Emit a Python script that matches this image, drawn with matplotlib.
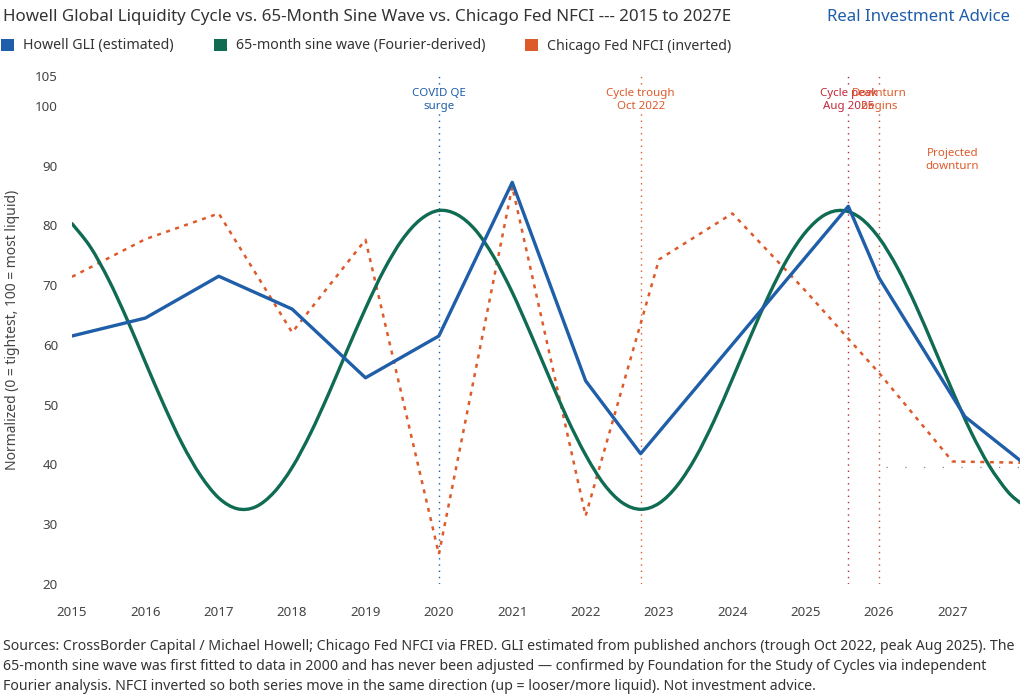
import matplotlib
matplotlib.use("Agg")
import matplotlib.pyplot as plt
from matplotlib.patches import Patch, PathPatch
from matplotlib.path import Path

plt.rcParams["font.family"] = ["Noto Sans", "DejaVu Sans"]

BLUE = "#1f5ea8"
GREEN = "#0f6b52"
ORANGE = "#dd5a2b"
CRIMSON = "#c3283a"
BROWN = "#b9553a"
TEXT = "#333333"

# x values are decimal years (Oct 2022 = 2022.75, Aug 2025 = 2025.58)
year_ticks = list(range(2015, 2028))
y_ticks = [20, 30, 40, 50, 60, 70, 80, 90, 100, 105]

gli_dates = [2015.0, 2016.0, 2017.0, 2018.0, 2019.0, 2020.0, 2021.0, 2022.0,
             2022.75, 2025.58, 2026.0, 2027.17, 2027.92]
gli_values = [61.5, 64.5, 71.5, 66.0, 54.5, 61.5, 87.2, 54.0,
              41.8, 83.2, 71.2, 48.0, 40.7]

nfci_dates = [2015.0, 2016.0, 2017.0, 2018.0, 2019.0, 2020.0, 2021.0, 2022.0,
              2023.0, 2024.0, 2025.0, 2026.0, 2027.0, 2027.92]
nfci_values = [71.4, 77.7, 82.0, 62.1, 77.6, 25.0, 86.5, 31.4,
               74.3, 82.0, 69.0, 55.3, 40.5, 40.3]

# sine wave
sine_dates = [2015 + q / 4 for q in range(52)] + [2027.92]
sine_values = [80.3, 76.4, 70.9, 64.3, 57.1, 50.0, 43.5, 38.2,
               34.4, 32.6, 32.9, 35.3, 39.5, 45.2, 51.9, 59.1,
               66.1, 72.5, 77.6, 81.0, 82.5, 81.8, 79.2, 74.7,
               68.8, 61.9, 54.7, 47.7, 41.6, 36.7, 33.6, 32.5,
               33.5, 36.5, 41.2, 47.3, 54.3, 61.5, 68.4, 74.4,
               78.9, 81.7, 82.5, 81.2, 77.9, 72.9, 66.6, 59.5,
               52.3, 45.5, 39.8, 35.5, 33.6]

events = [
    (2020.0, "COVID QE\nsurge", BLUE, BLUE),
    (2022.75, "Cycle trough\nOct 2022", ORANGE, ORANGE),
    (2025.58, "Cycle peak\nAug 2025", CRIMSON, CRIMSON),
    (2026.0, "Downturn\nbegins", BROWN, ORANGE),
]


def smooth_path(xs, ys):
    """Cubic bezier path through the points (like a tensioned chart line)."""
    pts = list(zip(xs, ys))
    verts = [pts[0]]
    codes = [Path.MOVETO]
    n = len(pts)
    for i in range(n - 1):
        p0 = pts[i - 1] if i > 0 else pts[i]
        p1 = pts[i]
        p2 = pts[i + 1]
        p3 = pts[i + 2] if i + 2 < n else pts[i + 1]
        c1 = (p1[0] + (p2[0] - p0[0]) / 6, p1[1] + (p2[1] - p0[1]) / 6)
        c2 = (p2[0] - (p3[0] - p1[0]) / 6, p2[1] - (p3[1] - p1[1]) / 6)
        verts += [c1, c2, p2]
        codes += [Path.CURVE4, Path.CURVE4, Path.CURVE4]
    return Path(verts, codes)


fig = plt.figure(figsize=(10.25, 6.94), dpi=100)
ax = fig.add_axes([72 / 1025, 110 / 694, 948 / 1025, 508 / 694])

for x, label, line_color, text_color in events:
    ax.axvline(x, color=line_color, lw=1.0, linestyle=(0, (1, 3.5)), zorder=1)
    # white backing first, so overlapping labels both stay readable
    ax.text(x, 101, label, ha="center", va="center", fontsize=8.3,
            color="none", linespacing=1.25, zorder=4,
            bbox=dict(facecolor="white", edgecolor="none", pad=1.5))
for x, label, line_color, text_color in events:
    ax.text(x, 101, label, ha="center", va="center", fontsize=8.3,
            color=text_color, linespacing=1.25, zorder=5)

ax.plot([2026.1, 2027.92], [39.6, 39.6], color="#8a8a8a", lw=0.9,
        linestyle=(0, (1, 14)), zorder=1)
ax.text(2027.0, 91, "Projected\ndownturn", ha="center", va="center",
        fontsize=8.3, color=ORANGE, linespacing=1.25)

ax.add_patch(PathPatch(smooth_path(sine_dates, sine_values), facecolor="none",
                       edgecolor=GREEN, lw=2.4, zorder=3, capstyle="round"))
ax.plot(nfci_dates, nfci_values, color=ORANGE, lw=1.8,
        linestyle=(0, (1.6, 2.2)), zorder=2)
ax.plot(gli_dates, gli_values, color=BLUE, lw=2.4, zorder=4)

ax.set_xlim(2015.0, 2027.92)
ax.set_ylim(20, 105)
ax.set_xticks(year_ticks)
ax.set_xticklabels([str(y) for y in year_ticks])
ax.set_yticks(y_ticks)
for side in ["top", "right", "bottom", "left"]:
    ax.spines[side].set_visible(False)
ax.tick_params(axis="both", length=0, labelsize=9.6, colors="#444444")
ax.tick_params(axis="x", pad=15.5)
ax.tick_params(axis="y", pad=10)
ax.set_ylabel("Normalized (0 = tightest, 100 = most liquid)", fontsize=10,
              color="#444444", labelpad=11)

fig.text(3 / 1025, 1 - 17 / 694,
         "Howell Global Liquidity Cycle vs. 65-Month Sine Wave vs. Chicago Fed NFCI --- 2015 to 2027E",
         ha="left", va="center", fontsize=12.2, color=TEXT)
fig.text(1010 / 1025, 1 - 17 / 694, "Real Investment Advice", ha="right",
         va="center", fontsize=12.1, color=BLUE, fontweight="semibold")

handles = [
    Patch(facecolor=BLUE, edgecolor="none", label="Howell GLI (estimated)"),
    Patch(facecolor=GREEN, edgecolor="none", label="65-month sine wave (Fourier-derived)"),
    Patch(facecolor=ORANGE, edgecolor="none", label="Chicago Fed NFCI (inverted)"),
]
leg = fig.legend(handles=handles, loc="center left",
                 bbox_to_anchor=(1 / 1025, 1 - 46 / 694), ncol=3, frameon=False,
                 fontsize=10.2, handlelength=0.93, handleheight=0.93,
                 handletextpad=0.64, columnspacing=2.8, borderpad=0,
                 borderaxespad=0)
for t in leg.get_texts():
    t.set_color(TEXT)

footer = [
    "Sources: CrossBorder Capital / Michael Howell; Chicago Fed NFCI via FRED. GLI estimated from published anchors (trough Oct 2022, peak Aug 2025). The",
    "65-month sine wave was first fitted to data in 2000 and has never been adjusted \u2014 confirmed by Foundation for the Study of Cycles via independent",
    "Fourier analysis. NFCI inverted so both series move in the same direction (up = looser/more liquid). Not investment advice.",
]
for i, line in enumerate(footer):
    fig.text(3 / 1025, 1 - (647 + 20 * i) / 694, line, ha="left", va="center",
             fontsize=10.2, color=TEXT)

fig.savefig("out.png", dpi=100)
